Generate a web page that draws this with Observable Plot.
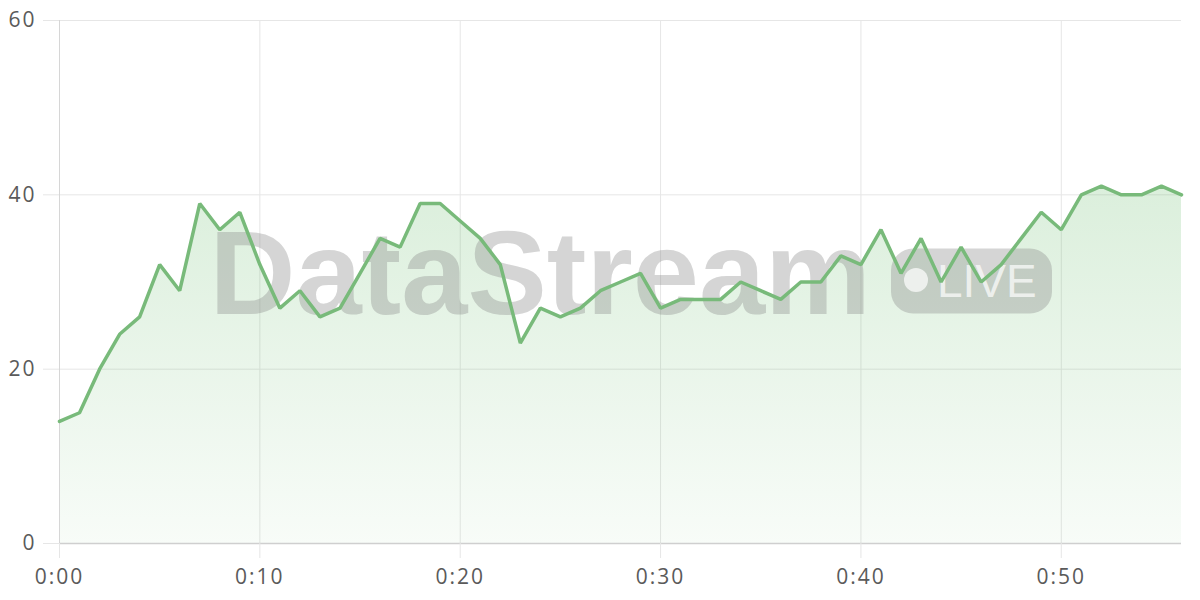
<!DOCTYPE html>
<html><head><meta charset="utf-8">
<script src="https://cdn.jsdelivr.net/npm/d3@7"></script>
<script src="https://cdn.jsdelivr.net/npm/@observablehq/plot@0.6"></script>
<style>
html,body{margin:0;padding:0;background:#fff}
#chart{width:1200px;height:600px;overflow:hidden}
#chart g[aria-label="x-axis tick label"] text,
#chart g[aria-label="y-axis tick label"] text{letter-spacing:2px}
</style>
</head><body><div id="chart"></div>
<script>
const minutes = [0,1,2,3,4,5,6,7,8,9,10,11,12,13,14,15,16,17,18,19,20,21,22,23,24,25,26,27,28,29,30,31,32,33,34,35,36,37,38,39,40,41,42,43,44,45,46,47,48,49,50,51,52,53,54,55,56];
const values = [14,15,20,24,26,32,29,39,36,38,32,27,29,26,27,31,35,34,39,39,37,35,32,23,27,26,27,29,30,31,27,28,28,28,30,29,28,30,30,33,32,36,31,35,30,34,30,32,35,38,36,40,41,40,40,41,40];
const xTicks = [0,10,20,30,40,50];
const yTicks = [0,20,40,60];
const brandText = ["DataStream"];
const liveText = "LIVE";

const data = minutes.map((m, i) => ({minute: m, value: values[i]}));
const fmt = m => `${Math.floor(m/60)}:${String(m % 60).padStart(2, "0")}`;
const font = "'Liberation Sans', Arial, Helvetica, sans-serif";
const axisFont = "'Open Sans', 'Liberation Sans', Arial, sans-serif";

const gradientDefs = () => {
  const defs = d3.create("svg:defs");
  const g = defs.append("linearGradient").attr("id", "areaGrad")
    .attr("x1", 0).attr("y1", 0).attr("x2", 0).attr("y2", 1);
  g.append("stop").attr("offset", "0%").attr("stop-color", "#4caf50").attr("stop-opacity", 0.2);
  g.append("stop").attr("offset", "100%").attr("stop-color", "#4caf50").attr("stop-opacity", 0.04);
  return defs.node();
};

const livePill = (index, scales, values, dims) => {
  const cx = dims.marginLeft + (dims.width - dims.marginLeft - dims.marginRight) / 2;
  const cy = dims.marginTop + (dims.height - dims.marginTop - dims.marginBottom) / 2;
  const g = d3.create("svg:g");
  g.append("rect")
    .attr("x", cx + 271).attr("y", cy - 33)
    .attr("width", 161).attr("height", 65)
    .attr("rx", 22).attr("ry", 22)
    .attr("fill", "#888").attr("fill-opacity", 0.35);
  g.append("circle")
    .attr("cx", cx + 296).attr("cy", cy - 1.5).attr("r", 12)
    .attr("fill", "#fff").attr("fill-opacity", 0.7);
  g.append("text")
    .attr("x", cx + 317).attr("y", cy + 15.5)
    .attr("text-anchor", "start")
    .attr("font-family", font).attr("font-size", 46)
    .attr("fill", "#fff").attr("fill-opacity", 0.7)
    .text(liveText);
  return g.node();
};

const chart = Plot.plot({
  width: 1200,
  height: 600,
  marginLeft: 59,
  marginRight: 19,
  marginTop: 20,
  marginBottom: 57,
  style: {fontFamily: font, background: "#fff"},
  x: {domain: [0, 56], label: null},
  y: {domain: [0, 60], label: null},
  marks: [
    gradientDefs,
    Plot.gridX(xTicks, {stroke: "#e6e6e6", strokeOpacity: 1}),
    Plot.gridY(yTicks, {stroke: "#e6e6e6", strokeOpacity: 1}),
    Plot.areaY(data, {x: "minute", y: "value", fill: "url(#areaGrad)"}),
    Plot.text(brandText, {
      text: d => d, frameAnchor: "middle", textAnchor: "start",
      dx: -411, dy: -6, fontSize: 119, fontWeight: "bold",
      fill: "#888", fillOpacity: 0.35
    }),
    livePill,
    Plot.ruleX([0], {stroke: "#d6d6d6"}),
    Plot.ruleY([0], {stroke: "#cfcfcf", strokeWidth: 1.5}),
    Plot.lineY(data, {x: "minute", y: "value", stroke: "#78ba7a", strokeWidth: 3.5, strokeLinejoin: "miter"}),
    Plot.axisX(xTicks, {
      tickSize: 15, tickPadding: 11, stroke: "#e6e6e6", fill: "#5a5a5a",
      fontSize: 21, fontFamily: axisFont, tickFormat: fmt, label: null
    }),
    Plot.axisY(yTicks, {
      tickSize: 16, tickPadding: 7, stroke: "#e6e6e6", fill: "#5a5a5a",
      fontSize: 21, fontFamily: axisFont, label: null
    })
  ]
});
document.getElementById("chart").appendChild(chart);
</script>
</body></html>
